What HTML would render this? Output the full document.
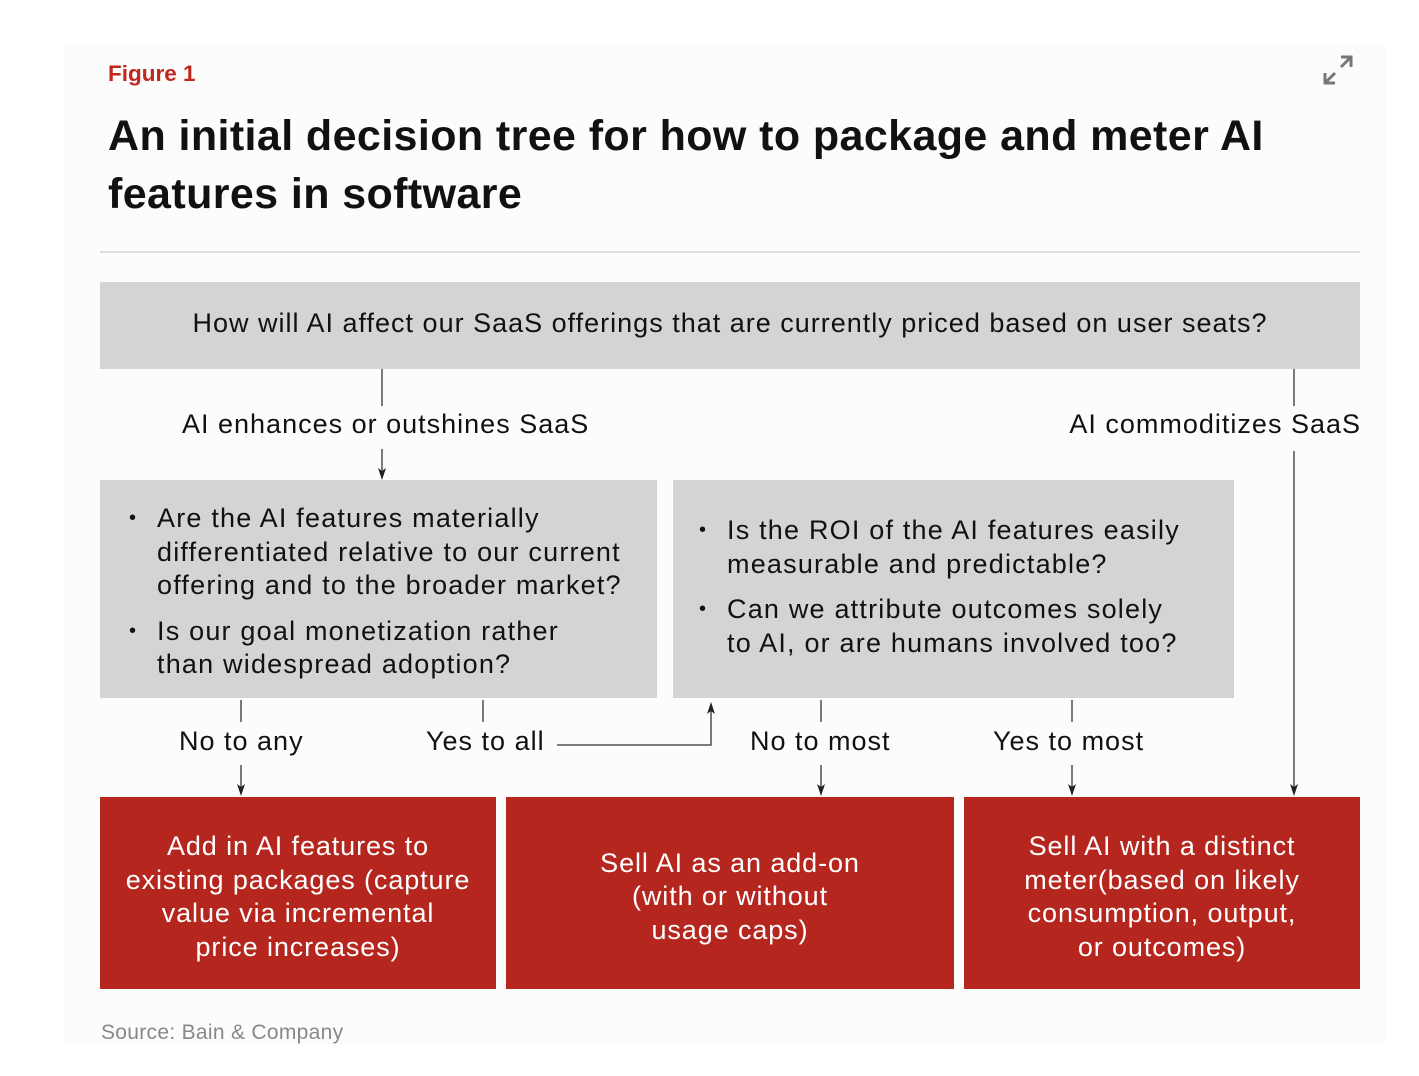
<!DOCTYPE html>
<html><head><style>
*{margin:0;padding:0;box-sizing:border-box}
body{width:1419px;height:1076px;background:#fff;font-family:"Liberation Sans",sans-serif;position:relative;overflow:hidden;color:#111}
.card{position:absolute;left:64px;top:45px;width:1322px;height:1000px;background:#fcfcfc}
.a{position:absolute;white-space:nowrap}
.g{position:absolute;background:#d4d4d4}
.r{position:absolute;background:#b5261e;color:#fff;font-size:27px;line-height:33.5px;text-align:center;display:flex;align-items:center;justify-content:center;letter-spacing:0.9px;padding-top:8px}
.t{font-size:27px;line-height:33.5px;letter-spacing:1.2px}
.lab{font-size:27px;letter-spacing:1px}
ul{list-style:none}
li{position:relative;padding-left:56px}
li:before{content:"•";position:absolute;left:28px;font-size:20px}
</style></head><body>
<div class="card"></div>
<div class="a" style="left:108px;top:61px;font-size:22.5px;font-weight:bold;color:#c0281e">Figure 1</div>
<svg class="a" style="left:1320px;top:52px" width="36" height="36" viewBox="0 0 36 36"><g stroke="#777" stroke-width="3" fill="none"><path d="M5 31 L15 21 M5 21 V31 H15"/><path d="M31 5 L21 15 M21 5 H31 V15"/></g></svg>
<div class="a" style="left:108px;top:107px;font-size:43px;font-weight:bold;line-height:58px;white-space:normal;width:1280px;letter-spacing:0.4px">An initial decision tree for how to package and meter AI features in software</div>
<div class="a" style="left:100px;top:251px;width:1260px;height:2px;background:#ddd"></div>

<div class="g" style="left:100px;top:282px;width:1260px;height:87px"></div>
<div class="a t" style="left:100px;top:307px;width:1260px;text-align:center;letter-spacing:1px">How will AI affect our SaaS offerings that are currently priced based on user seats?</div>

<div class="a lab" style="left:182px;top:409px">AI enhances or outshines SaaS</div>
<div class="a lab" style="left:1000px;top:409px;width:361px;text-align:right">AI commoditizes SaaS</div>

<div class="g" style="left:100px;top:480px;width:557px;height:218px"></div>
<ul class="a t" style="left:101px;top:502px">
<li>Are the AI features materially<br>differentiated relative to our current<br>offering and to the broader market?</li>
<li style="margin-top:12px">Is our goal monetization rather<br>than widespread adoption?</li>
</ul>
<div class="g" style="left:673px;top:480px;width:561px;height:218px"></div>
<ul class="a t" style="left:671px;top:514px">
<li>Is the ROI of the AI features easily<br>measurable and predictable?</li>
<li style="margin-top:12px">Can we attribute outcomes solely<br>to AI, or are humans involved too?</li>
</ul>

<div class="a lab" style="left:179px;top:726px">No to any</div>
<div class="a lab" style="left:426px;top:726px">Yes to all</div>
<div class="a lab" style="left:750px;top:726px">No to most</div>
<div class="a lab" style="left:993px;top:726px">Yes to most</div>

<svg class="a" style="left:0;top:0" width="1419" height="1076">
<g stroke="#333" stroke-width="1.3" fill="none">
<line x1="382" y1="369" x2="382" y2="406"/>
<line x1="382" y1="449" x2="382" y2="472"/>
<line x1="1294" y1="369" x2="1294" y2="406"/>
<line x1="1294" y1="451" x2="1294" y2="788"/>
<line x1="241" y1="700" x2="241" y2="722"/>
<line x1="241" y1="765" x2="241" y2="788"/>
<line x1="483" y1="700" x2="483" y2="722"/>
<polyline points="557,745 711,745 711,710"/>
<line x1="821" y1="700" x2="821" y2="722"/>
<line x1="821" y1="765" x2="821" y2="788"/>
<line x1="1072" y1="700" x2="1072" y2="722"/>
<line x1="1072" y1="765" x2="1072" y2="788"/>
</g>
<g fill="#222">
<path d="M378 468 L382 480 L386 468 L382 471 Z"/>
<path d="M1290 784 L1294 796 L1298 784 L1294 787 Z"/>
<path d="M237 784 L241 796 L245 784 L241 787 Z"/>
<path d="M817 784 L821 796 L825 784 L821 787 Z"/>
<path d="M1068 784 L1072 796 L1076 784 L1072 787 Z"/>
<path d="M707 714 L711 702 L715 714 L711 711 Z"/>
</g></svg>

<div class="r" style="left:100px;top:797px;width:396px;height:192px">Add in AI features to<br>existing packages (capture<br>value via incremental<br>price increases)</div>
<div class="r" style="left:506px;top:797px;width:448px;height:192px">Sell AI as an add-on<br>(with or without<br>usage caps)</div>
<div class="r" style="left:964px;top:797px;width:396px;height:192px">Sell AI with a distinct<br>meter(based on likely<br>consumption, output,<br>or outcomes)</div>

<div class="a" style="left:101px;top:1021px;font-size:21px;color:#888;letter-spacing:0.3px">Source: Bain &amp; Company</div>
</body></html>
